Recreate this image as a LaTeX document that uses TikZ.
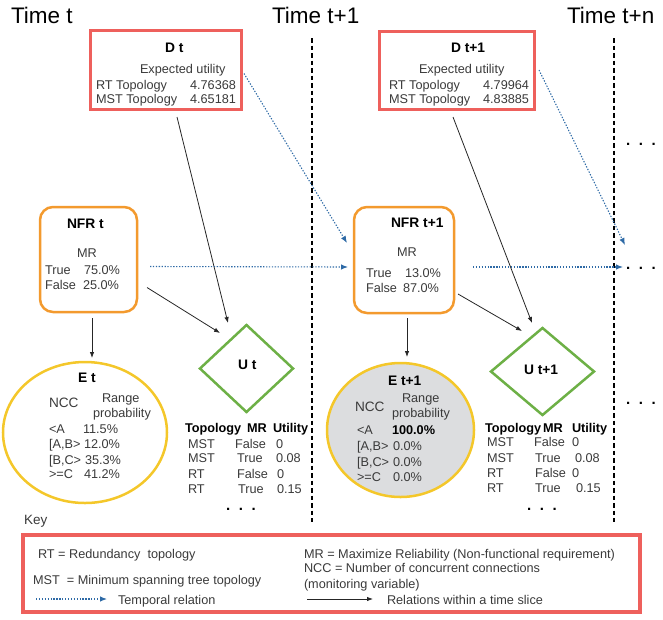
\documentclass[tikz,border=0pt]{standalone}
\usepackage{fontspec}
\setmainfont{Liberation Sans}
\usetikzlibrary{shapes.geometric,arrows.meta,calc}
\definecolor{dred}{HTML}{EE605C}
\definecolor{norange}{HTML}{F39A2E}
\definecolor{eyellow}{HTML}{F4C72A}
\definecolor{ugreen}{HTML}{6DB046}
\definecolor{tblue}{HTML}{2E6AA6}
\definecolor{txt}{HTML}{3A3A3A}
\definecolor{egray}{HTML}{DCDDDF}
\newcommand\bodyfs{\fontsize{12.7}{15}\selectfont}
\newcommand\labfs{\fontsize{13.8}{16}\selectfont}
\begin{document}
\begin{tikzpicture}[x=1pt,y=-1pt,
  every node/.style={inner sep=0pt, outer sep=0pt, text=txt, font=\bodyfs},
  tl/.style={anchor=base west},
  tr/.style={anchor=base east},
  bl/.style={anchor=base west, text=black, font=\bodyfs\bfseries},
  lab/.style={anchor=base west, text=black, font=\labfs\bfseries},
  ttl/.style={anchor=base west, text=black, font=\fontsize{22.5}{26}\selectfont},
  ncc/.style={anchor=base west, font=\fontsize{13.6}{16}\selectfont},
  dotsx/.style={anchor=base west, text=black, font=\fontsize{15}{18}\selectfont\bfseries},
  dbox/.style={draw=dred, line width=3pt, rectangle},
  nbox/.style={draw=norange, line width=2.5pt, rectangle, rounded corners=13pt},
  eell/.style={draw=eyellow, line width=2.5pt, ellipse},
  udia/.style={draw=ugreen, line width=2.5pt, diamond},
  sarrow/.style={draw=black!85, line width=0.8pt, -{Latex[length=6pt,width=4.5pt]}},
  tarrow/.style={draw=tblue, line width=1.1pt, dash pattern=on 1.3pt off 1.6pt, -{Latex[length=7pt,width=5.5pt]}},
  vsep/.style={draw=black, line width=2.6pt, dash pattern=on 4.5pt off 3pt}
]
\useasboundingbox (0,0) rectangle (663,619);

% titles
\node[ttl] (T0) at (11,23) {Time t};
\node[ttl] (T1) at (272,23) {Time t+1};
\node[ttl] (T2) at (567,23) {Time t+n};

% separators
\draw[vsep] (312,38) -- (312,522);
\draw[vsep] (614,38) -- (614,522);

% D boxes
\node[dbox, minimum width=151pt, minimum height=79pt] (Dt) at (165.5,69.5) {};
\node[lab] (Dtl) at (165,52) {D t};
\node[tl] (Dte) at (140,73) {Expected utility};
\node[tl] (Dtr) at (96,89) {RT Topology};
\node[tr] (Dtrv) at (236,89) {4.76368};
\node[tl] (Dtm) at (96,103) {MST Topology};
\node[tr] (Dtmv) at (236,103) {4.65181};

\node[dbox, minimum width=155pt, minimum height=78pt] (D1) at (456.5,70) {};
\node[lab] (D1l) at (451,52) {D t+1};
\node[tl] (D1e) at (419,73) {Expected utility};
\node[tl] (D1r) at (389,89) {RT Topology};
\node[tr] (D1rv) at (529,89) {4.79964};
\node[tl] (D1m) at (389,103) {MST Topology};
\node[tr] (D1mv) at (529,103) {4.83885};

% NFR boxes
\node[nbox, minimum width=97pt, minimum height=105pt] (NFRt) at (88.5,259.5) {};
\node[lab] (NFRtl) at (67,228) {NFR t};
\node[tl] (NFRtm) at (77,257) {MR};
\node[tl] (NFRta) at (45,274) {True};
\node[tl] (NFRtav) at (84,274) {75.0\%};
\node[tl] (NFRtb) at (45,289) {False};
\node[tl] (NFRtbv) at (83,289) {25.0\%};

\node[nbox, minimum width=100pt, minimum height=106pt] (NFR1) at (404,260) {};
\node[lab] (NFR1l) at (391,227) {NFR t+1};
\node[tl] (NFR1m) at (397,256) {MR};
\node[tl] (NFR1a) at (366,277) {True};
\node[tl] (NFR1av) at (405,277) {13.0\%};
\node[tl] (NFR1b) at (366,292) {False};
\node[tl] (NFR1bv) at (403,292) {87.0\%};

% E ellipses
\node[eell, minimum width=164pt, minimum height=141pt] (Et) at (85,432.5) {};
\node[lab] (Etl) at (78,382) {E t};
\node[ncc] (Etn) at (49,407) {NCC};
\node[tl] (Etr) at (102,402) {Range};
\node[tl] (Etp) at (93,417) {probability};
\node[tl] (Et1) at (49,433) {<A};
\node[tl] (Et1v) at (83,433) {11.5\%};
\node[tl] (Et2) at (49,448) {[A,B>};
\node[tl] (Et2v) at (84,448) {12.0\%};
\node[tl] (Et3) at (49,464) {[B,C>};
\node[tl] (Et3v) at (85,464) {35.3\%};
\node[tl] (Et4) at (49,478) {>=C};
\node[tl] (Et4v) at (84,478) {41.2\%};

\node[eell, fill=egray, minimum width=147pt, minimum height=134pt] (E1) at (400.5,430) {};
\node[lab] (E1l) at (388,385) {E t+1};
\node[ncc] (E1n) at (355,411) {NCC};
\node[tl] (E1r) at (402,402) {Range};
\node[tl] (E1p) at (392,417) {probability};
\node[tl] (E11) at (357,434) {<A};
\node[bl] (E11v) at (392,434) {100.0\%};
\node[tl] (E12) at (357,450) {[A,B>};
\node[tl] (E12v) at (393,450) {0.0\%};
\node[tl] (E13) at (357,466) {[B,C>};
\node[tl] (E13v) at (393,466) {0.0\%};
\node[tl] (E14) at (357,481) {>=C};
\node[tl] (E14v) at (393,481) {0.0\%};

% U diamonds
\node[udia, minimum width=93pt, minimum height=87pt] (Ut) at (246.5,368.5) {};
\node[lab] (Utl) at (238,369) {U t};
\node[bl] (Uth1) at (185,432) {Topology};
\node[bl] (Uth2) at (247,432) {MR};
\node[bl] (Uth3) at (273,432) {Utility};
\node[tl] (Ut11) at (188,448) {MST};
\node[tl] (Ut12) at (235,448) {False};
\node[tl] (Ut13) at (276,448) {0};
\node[tl] (Ut21) at (188,462) {MST};
\node[tl] (Ut22) at (237,462) {True};
\node[tl] (Ut23) at (276,462) {0.08};
\node[tl] (Ut31) at (188,478) {RT};
\node[tl] (Ut32) at (237,478) {False};
\node[tl] (Ut33) at (277,478) {0};
\node[tl] (Ut41) at (188,493) {RT};
\node[tl] (Ut42) at (238,493) {True};
\node[tl] (Ut43) at (277,493) {0.15};
\node[dotsx] (Utd) at (226,510) {.\hspace{8.6pt}.\hspace{8.6pt}.};

\node[udia, minimum width=103pt, minimum height=87pt] (U1) at (542.5,371.5) {};
\node[lab] (U1l) at (524,374) {U t+1};
\node[bl] (U1h1) at (485,432) {Topology};
\node[bl] (U1h2) at (543,432) {MR};
\node[bl] (U1h3) at (572,432) {Utility};
\node[tl] (U111) at (487,446) {MST};
\node[tl] (U112) at (534,446) {False};
\node[tl] (U113) at (572,446) {0};
\node[tl] (U121) at (487,462) {MST};
\node[tl] (U122) at (535,462) {True};
\node[tl] (U123) at (575,462) {0.08};
\node[tl] (U131) at (487,477) {RT};
\node[tl] (U132) at (535,477) {False};
\node[tl] (U133) at (572,477) {0};
\node[tl] (U141) at (487,492) {RT};
\node[tl] (U142) at (535,492) {True};
\node[tl] (U143) at (576,492) {0.15};
\node[dotsx] (U1d) at (527,510) {.\hspace{8.6pt}.\hspace{8.6pt}.};

% right-hand dots
\node[dotsx] (R1) at (626,145) {.\hspace{8.6pt}.\hspace{8.6pt}.};
\node[dotsx] (R2) at (626,269) {.\hspace{8.6pt}.\hspace{8.6pt}.};
\node[dotsx] (R3) at (626,404) {.\hspace{8.6pt}.\hspace{8.6pt}.};
\coordinate (endA) at (623,267);
\coordinate (endB) at (625,245);

% connectors within slices
\draw[sarrow] ($(Dt.south)+(11.5,8)$) -- ($(Ut.north)+(-18.5,-2)$);
\draw[sarrow] ($(NFRt.south)+(3.5,6)$) -- ($(Et.north)+(7,-4)$);
\draw[sarrow] ($(NFRt.east)+(10,28)$) -- ($(Ut.north)+(-26.5,8)$);
\draw[sarrow] ($(D1.south)+(-3.5,8)$) -- ($(U1.north)+(-10.5,-5)$);
\draw[sarrow] ($(NFR1.south)+(3,5)$) -- ($(E1.north)+(6.5,-6)$);
\draw[sarrow] ($(NFR1.east)+(4,34)$) -- ($(U1.north)+(-20.5,3)$);

% temporal connectors
\draw[tarrow] ($(Dt.east)+(3,4)$) -- ($(NFR1.west)+(-7,-17)$);
\draw[tarrow] ($(NFRt.east)+(13,7)$) -- ($(NFR1.west)+(-6,7)$);
\draw[tarrow] ($(NFR1.east)+(19,7)$) -- (endA);
\draw[tarrow] ($(D1.east)+(5,0)$) -- (endB);

% key
\node[tl, font=\fontsize{13.5}{16}\selectfont] (keyl) at (24,524) {Key};
\node[draw=dred, line width=4pt, minimum width=617pt, minimum height=77pt] (key) at (331.5,573.5) {};
\node[tl] (k1) at (38,558) {RT = Redundancy\ \ topology};
\node[tl] (k2) at (33,584) {MST\ \ = Minimum spanning tree topology};
\node[tl] (k3) at (118,604) {Temporal relation};
\node[tl] (k4) at (304,558) {MR = Maximize Reliability (Non-functional requirement)};
\node[tl] (k5) at (304,572) {NCC = Number of concurrent connections};
\node[tl] (k6) at (304,588) {(monitoring variable)};
\node[tl] (k7) at (387,604) {Relations within a time slice};
\coordinate (ka1) at (36,599);
\coordinate (ka2) at (107,599);
\coordinate (kb1) at (307,599);
\coordinate (kb2) at (373,599);
\draw[tarrow] (ka1) -- (ka2);
\draw[sarrow] (kb1) -- (kb2);
\end{tikzpicture}
\end{document}
